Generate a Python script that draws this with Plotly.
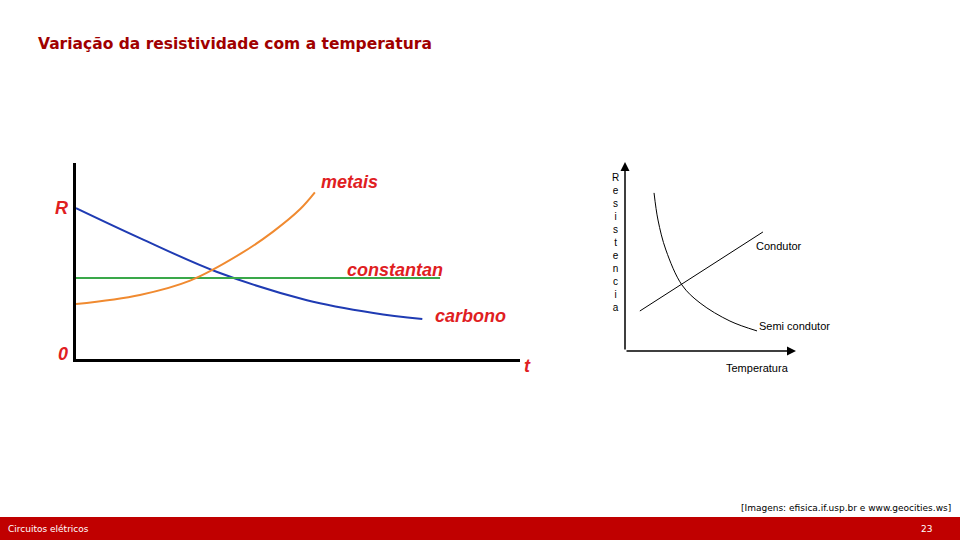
import plotly.graph_objects as go

W, H = 960, 540

# left diagram: resistance vs temperature (arbitrary units 0..100)
carbono_x = [0, 14.4, 31.8, 52, 67, 78]
carbono_y = [77, 61.7, 44.4, 30, 23.5, 20.4]
const_x = [0, 82]
const_y = [41.3, 41.3]
metais_x = [0, 14.4, 25.7, 37, 44.4, 50.5, 53.8]
metais_y = [28, 32.7, 40, 53.6, 65, 76.5, 85]

# right diagram
condutor_x = [9, 83.6]
condutor_y = [21.5, 64]
semi_x = [17.6, 20, 24.8, 34.5, 45.5, 63.6, 80]
semi_y = [85, 70.4, 54.3, 35.5, 25.8, 16.1, 10.8]


def px(x):
    return x / W


def py(y):
    return 1 - y / H


fig = go.Figure()
fig.add_trace(go.Scatter(x=carbono_x, y=carbono_y, mode="lines", line=dict(color="#1f3bb3", width=2, shape="spline")))
fig.add_trace(go.Scatter(x=const_x, y=const_y, mode="lines", line=dict(color="#3aa84a", width=2)))
fig.add_trace(go.Scatter(x=metais_x, y=metais_y, mode="lines", line=dict(color="#f08a30", width=2, shape="spline")))
fig.add_trace(go.Scatter(x=condutor_x, y=condutor_y, mode="lines", xaxis="x2", yaxis="y2",
                         line=dict(color="black", width=1)))
fig.add_trace(go.Scatter(x=semi_x, y=semi_y, mode="lines", xaxis="x2", yaxis="y2",
                         line=dict(color="black", width=1, shape="spline")))

ax = dict(showgrid=False, zeroline=False, showticklabels=False, ticks="", range=[0, 100], fixedrange=True)
red = dict(color="#e0201f", size=18, family="Liberation Sans")
ann = []
for txt, x, y in [("R", 61, 208), ("0", 63, 354), ("t", 527, 366), ("metais", 349, 182),
                  ("constantan", 395, 270), ("carbono", 470, 316)]:
    ann.append(dict(text="<b><i>" + txt + "</i></b>", x=px(x), y=py(y), xref="paper", yref="paper",
                    xanchor="center", yanchor="middle", showarrow=False, font=red))
blk = dict(color="black", size=11, family="Liberation Sans")
for txt, x, y, sz in [("<br>".join("Resistencia"), 615, 243, 10), ("Condutor", 779, 246, 11),
                      ("Semi condutor", 794, 326, 11), ("Temperatura", 757, 368, 11)]:
    ann.append(dict(text=txt, x=px(x), y=py(y), xref="paper", yref="paper", xanchor="center",
                    yanchor="middle", showarrow=False, font=dict(blk, size=sz)))
ann += [
    dict(text="", x=px(625), y=py(162), ax=0, ay=189, xref="paper", yref="paper",
         showarrow=True, arrowhead=2, arrowsize=1.2, arrowwidth=1.5, arrowcolor="black"),
    dict(text="", x=px(796), y=py(351), ax=-171, ay=0, xref="paper", yref="paper",
         showarrow=True, arrowhead=2, arrowsize=1.2, arrowwidth=1.5, arrowcolor="black"),
    dict(text="<b>Variação da resistividade com a temperatura</b>", x=px(36), y=py(44), xref="paper",
         yref="paper", xanchor="left", yanchor="middle", showarrow=False,
         font=dict(color="#a00000", size=15.5, family="DejaVu Sans")),
    dict(text="[Imagens: efisica.if.usp.br e www.geocities.ws]", x=px(953), y=py(508), xref="paper",
         yref="paper", xanchor="right", yanchor="middle", showarrow=False,
         font=dict(color="black", size=9, family="DejaVu Sans")),
    dict(text="Circuitos elétricos", x=px(6), y=py(529), xref="paper", yref="paper", xanchor="left",
         yanchor="middle", showarrow=False, font=dict(color="white", size=9, family="DejaVu Sans")),
    dict(text="23", x=px(934), y=py(529), xref="paper", yref="paper", xanchor="right",
         yanchor="middle", showarrow=False, font=dict(color="white", size=9, family="DejaVu Sans")),
]

fig.update_layout(
    width=W, height=H, margin=dict(l=0, r=0, t=0, b=0), showlegend=False,
    paper_bgcolor="white", plot_bgcolor="rgba(0,0,0,0)",
    xaxis=dict(ax, domain=[px(76), px(520)], showline=True, linecolor="black", linewidth=3),
    yaxis=dict(ax, domain=[py(359), py(163)], showline=True, linecolor="black", linewidth=3),
    xaxis2=dict(ax, domain=[px(625), px(790)], anchor="y2"),
    yaxis2=dict(ax, domain=[py(351), py(165)], anchor="x2"),
    annotations=ann,
    shapes=[dict(type="rect", xref="paper", yref="paper", x0=0, x1=1, y0=py(540), y1=py(517),
                 fillcolor="#c00000", line=dict(width=0), layer="below")],
)

fig.write_html("out.html", config={"displayModeBar": False},
               post_script="document.body.style.margin='0';")
